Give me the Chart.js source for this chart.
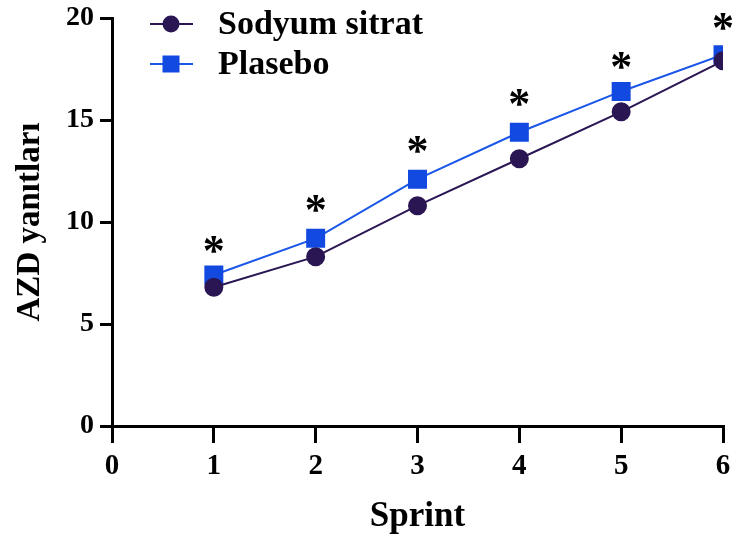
<!DOCTYPE html>
<html><head><meta charset="utf-8">
<script src="https://cdn.jsdelivr.net/npm/chart.js@4/dist/chart.umd.min.js"></script>
<style>html,body{margin:0;padding:0;background:#fff}#wrap{width:737px;height:540px}</style>
</head><body><div id="wrap"><canvas id="c" width="737" height="540"></canvas></div>
<script>
const sprints = [1, 2, 3, 4, 5, 6];
const sodyumSitrat = [6.8, 8.3, 10.8, 13.1, 15.4, 17.9];
const plasebo = [7.4, 9.2, 12.1, 14.4, 16.4, 18.2];
const asteriskY = [9.0, 11.0, 13.9, 16.2, 18.0, 19.9];
const yTicks = [0, 5, 10, 15, 20];
const xTicks = [0, 1, 2, 3, 4, 5, 6];

const FONT = '"Liberation Serif", "Times New Roman", serif';
const pts = (ys) => sprints.map((x, i) => ({x: x, y: ys[i]}));

const annotate = {
  id: 'annotate',
  afterDatasetsDraw(chart) {
    const ctx = chart.ctx, xs = chart.scales.x, ys = chart.scales.y;
    ctx.save();
    ctx.fillStyle = '#000';
    ctx.font = 'bold 44px ' + FONT;
    ctx.textAlign = 'center';
    ctx.textBaseline = 'middle';
    sprints.forEach((s, i) => {
      ctx.fillText('*', xs.getPixelForValue(s), ys.getPixelForValue(asteriskY[i]) + 11);
    });
    // legend
    const items = chart.data.datasets;
    items.forEach((ds, i) => {
      const y = 24 + i * 40;
      ctx.strokeStyle = ds.borderColor;
      ctx.lineWidth = 2;
      ctx.beginPath(); ctx.moveTo(150, y); ctx.lineTo(193, y); ctx.stroke();
      ctx.fillStyle = ds.pointBackgroundColor;
      if (ds.pointStyle === 'rect') {
        ctx.fillRect(171 - 8.5, y - 8.5, 17, 17);
      } else {
        ctx.beginPath(); ctx.arc(171, y, 8.5, 0, Math.PI * 2); ctx.fill();
      }
      ctx.fillStyle = '#000';
      ctx.font = 'bold 34px ' + FONT;
      ctx.textAlign = 'left';
      ctx.fillText(ds.label, 218, y + 1);
    });
    ctx.restore();
  }
};

new Chart(document.getElementById('c'), {
  type: 'line',
  data: {
    datasets: [
      {label: 'Sodyum sitrat', data: pts(sodyumSitrat), borderColor: '#2b1654', backgroundColor: '#2b1654',
       pointBackgroundColor: '#2b1654', pointBorderColor: '#2b1654', pointStyle: 'circle', pointRadius: 8.5,
       borderWidth: 2, tension: 0},
      {label: 'Plasebo', data: pts(plasebo), borderColor: '#1a56e8', backgroundColor: '#1249e0',
       pointBackgroundColor: '#1249e0', pointBorderColor: '#1249e0', pointStyle: 'rect', pointRadius: 12,
       borderWidth: 2, tension: 0}
    ]
  },
  options: {
    responsive: false, animation: false, devicePixelRatio: 1,
    layout: {padding: {top: 18, right: 11, left: 0, bottom: 0}},
    plugins: {legend: {display: false}, tooltip: {enabled: false}},
    scales: {
      x: {
        type: 'linear', min: 0, max: 6,
        afterBuildTicks: (s) => { s.ticks = xTicks.map(v => ({value: v})); },
        afterFit: (s) => { s.height = 114; s.paddingRight = 0; s.paddingLeft = 0; s.paddingTop = 0; s.paddingBottom = 0; },
        grid: {drawOnChartArea: false, drawTicks: true, tickLength: 17, color: '#000', lineWidth: 3},
        border: {color: '#000', width: 3},
        ticks: {color: '#000', padding: 6, font: {family: FONT, size: 29, weight: 'bold'}},
        title: {display: true, text: 'Sprint', color: '#000', padding: {top: 0, bottom: 2}, font: {family: FONT, size: 35, weight: 'bold'}}
      },
      y: {
        min: 0, max: 20,
        afterBuildTicks: (s) => { s.ticks = yTicks.map(v => ({value: v})); },
        afterFit: (s) => { s.width = 112; s.paddingTop = 0; s.paddingBottom = 0; s.paddingLeft = 0; s.paddingRight = 0; },
        grid: {drawOnChartArea: false, drawTicks: true, tickLength: 12, color: '#000', lineWidth: 3},
        border: {color: '#000', width: 3},
        ticks: {color: '#000', padding: 6, font: {family: FONT, size: 28, weight: 'bold'}},
        title: {display: true, text: 'AZD yanıtları', color: '#000', padding: {top: 11, bottom: 0}, font: {family: FONT, size: 33, weight: 'bold'}}
      }
    }
  },
  plugins: [annotate]
});
</script></body></html>
